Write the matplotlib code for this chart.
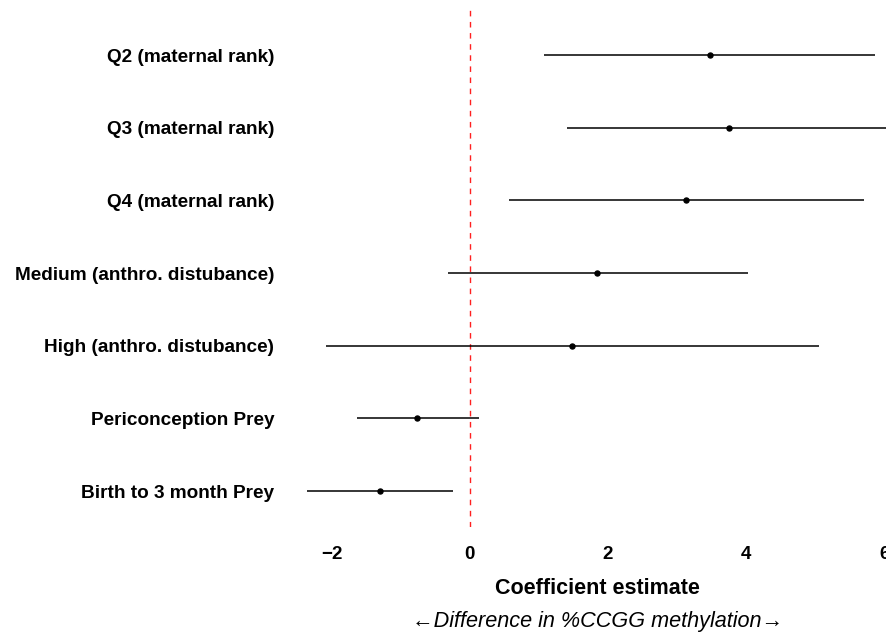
import matplotlib.pyplot as plt

plt.rcParams['font.family'] = ['Liberation Sans', 'DejaVu Sans']

# terms from top to bottom
terms = ["Q2 (maternal rank)", "Q3 (maternal rank)", "Q4 (maternal rank)",
         "Medium (anthro. distubance)", "High (anthro. distubance)",
         "Periconception Prey", "Birth to 3 month Prey"]
estimate = [3.47, 3.75, 3.13, 1.84, 1.48, -0.76, -1.30]
lower = [1.08, 1.41, 0.57, -0.32, -2.09, -1.64, -2.36]
upper = [5.87, 6.30, 5.70, 4.03, 5.06, 0.13, -0.24]
xticks = [-2, 0, 2, 4, 6]

fig = plt.figure(figsize=(8.87, 6.34), dpi=100)
ax = fig.add_axes([0.3157, 0.1688, 0.6843, 0.8154])

ypos = list(range(len(terms), 0, -1))

ax.axvline(0, color="#ff2020", linestyle=(0, (4, 4)), linewidth=1.0, zorder=1)
ax.hlines(ypos, lower, upper, color="black", linewidth=1.1, zorder=2)
ax.plot(estimate, ypos, "o", color="black", markersize=3.6, zorder=3)

ax.set_xlim(-2.75, 6.04)
ax.set_ylim(0.505, 7.62)
ax.set_xticks(xticks)
ax.set_xticklabels(["\u22122", "0", "2", "4", "6"], fontweight="bold", fontsize=13.5)
ax.set_yticks(ypos)
ax.set_yticklabels(terms, fontweight="bold", fontsize=13.7)
ax.tick_params(axis="x", length=0, pad=14)
ax.tick_params(axis="y", length=0, pad=4)
for s in ax.spines.values():
    s.set_visible(False)

fig.text(0.673, 1 - 589 / 634, "Coefficient estimate", ha="center", va="center",
         fontsize=15.5, fontweight="bold")
fig.text(0.674, 1 - 621 / 634, "\u2190Difference in %CCGG methylation\u2192", ha="center",
         va="center", fontsize=15.6, fontstyle="italic")

fig.savefig("out.png", dpi=100)
